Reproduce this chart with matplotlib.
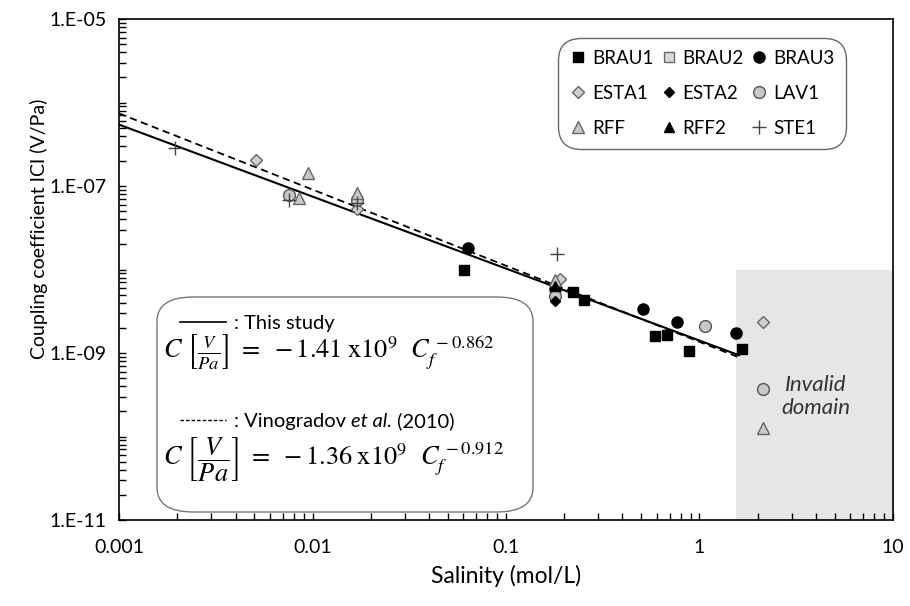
import numpy as np
import matplotlib
matplotlib.use("Agg")
import matplotlib.pyplot as plt
from matplotlib.patches import FancyBboxPatch, Rectangle
from matplotlib.lines import Line2D
from matplotlib.ticker import FixedLocator, FixedFormatter, LogLocator, NullFormatter

plt.rcParams['font.family'] = ['Lato', 'DejaVu Sans']
plt.rcParams['mathtext.fontset'] = 'stix'

# salinity (mol/L) and coupling coefficient |C| (V/Pa)
brau1_x = [0.0605, 0.222, 0.253, 0.589, 0.68, 0.883, 1.66]
brau1_y = [9.9e-9, 5.4e-9, 4.3e-9, 1.6e-9, 1.64e-9, 1.06e-9, 1.12e-9]
brau2_x = []
brau2_y = []
brau3_x = [0.0637, 0.18, 0.51, 0.765, 1.54]
brau3_y = [1.81e-8, 5.8e-9, 3.36e-9, 2.35e-9, 1.74e-9]
esta1_x = [0.0051, 0.017, 0.19, 2.13]
esta1_y = [2.05e-7, 5.3e-8, 7.7e-9, 2.35e-9]
esta2_x = [0.18]
esta2_y = [4.2e-9]
lav1_x = [0.00757, 0.017, 0.18, 1.07, 2.13]
lav1_y = [7.8e-8, 6.8e-8, 4.8e-9, 2.1e-9, 3.7e-10]
rff_x = [0.0085, 0.0095, 0.017, 0.18, 2.13]
rff_y = [7.2e-8, 1.43e-7, 8.2e-8, 7.5e-9, 1.26e-10]
rff2_x = [0.18]
rff2_y = [6.3e-9]
ste1_x = [0.00194, 0.00757, 0.017, 0.184]
ste1_y = [2.85e-7, 6.8e-8, 6.3e-8, 1.53e-8]

# fitted power laws (straight on log-log), end points
fit_x = [0.001, 1.6]
fit_this = [5.44e-7, 9.4e-10]
fit_vino = [7.4e-7, 8.86e-10]

invalid_x = [1.55, 10]
invalid_y = [1e-11, 1e-8]

yticks = [1e-11, 1e-9, 1e-7, 1e-5]
ylabels = ["1.E-11", "1.E-09", "1.E-07", "1.E-05"]
xticks = [0.001, 0.01, 0.1, 1, 10]
xlabels = ["0.001", "0.01", "0.1", "1", "10"]

fig = plt.figure(figsize=(9.1, 6.06), dpi=100)
ax = fig.add_axes([0.1308, 0.1419, 0.8505, 0.8267])
ax.set_xscale("log")
ax.set_yscale("log")
ax.set_xlim(0.001, 10)
ax.set_ylim(1e-11, 1e-5)

ax.add_patch(Rectangle((invalid_x[0], invalid_y[0]), invalid_x[1] - invalid_x[0],
                       invalid_y[1] - invalid_y[0], facecolor="#e6e6e6",
                       edgecolor="none", zorder=0))
ax.text(4.0, 3.0e-10, "Invalid\ndomain", style="italic", fontsize=16,
        color="#333333", ha="center", va="center", linespacing=1.15)

ax.plot(fit_x, fit_this, color="black", lw=1.5, zorder=2)
ax.plot(fit_x, fit_vino, color="black", lw=1.3, ls=(0, (4, 2.5)), zorder=2)

grey = "#c8c8c8"
edge = "#666666"
h_brau1, = ax.plot(brau1_x, brau1_y, "s", ms=7.5, color="black", label="BRAU1", zorder=3)
h_brau2, = ax.plot(brau2_x, brau2_y, "s", ms=7, mfc="#d9d9d9", mec=edge, mew=1, label="BRAU2", zorder=3)
h_brau3, = ax.plot(brau3_x, brau3_y, "o", ms=8, color="black", label="BRAU3", zorder=3)
h_esta1, = ax.plot(esta1_x, esta1_y, "D", ms=6.5, mfc="#d0d0d0", mec=edge, mew=1, label="ESTA1", zorder=3)
h_esta2, = ax.plot(esta2_x, esta2_y, "D", ms=5, color="black", label="ESTA2", zorder=4)
h_lav1, = ax.plot(lav1_x, lav1_y, "o", ms=8.5, mfc=grey, mec="#555555", mew=1, label="LAV1", zorder=3)
h_rff, = ax.plot(rff_x, rff_y, "^", ms=9, mfc=grey, mec=edge, mew=1, label="RFF", zorder=3)
h_rff2, = ax.plot(rff2_x, rff2_y, "^", ms=7, color="black", label="RFF2", zorder=4)
h_ste1, = ax.plot(ste1_x, ste1_y, "+", ms=10, color="#444444", mew=1, label="STE1", zorder=4)

handles = [h_brau1, h_esta1, h_rff, h_brau2, h_esta2, h_rff2, h_brau3, h_lav1, h_ste1]
leg = ax.legend(handles=handles, ncol=3, loc="upper right",
                bbox_to_anchor=(0.935, 0.955), fontsize=13.5, frameon=True,
                fancybox=True, handlelength=0.8, handletextpad=0.35,
                columnspacing=0.4, labelspacing=0.95, borderpad=0.45,
                borderaxespad=0)
leg.get_frame().set_edgecolor("#444444")
leg.get_frame().set_linewidth(1.0)
leg.get_frame().set_boxstyle("round,pad=0.2,rounding_size=1.2")

ax.yaxis.set_major_locator(FixedLocator(yticks))
ax.yaxis.set_major_formatter(FixedFormatter(ylabels))
ax.yaxis.set_minor_locator(LogLocator(base=10, subs=np.arange(1, 10), numticks=30))
ax.yaxis.set_minor_formatter(NullFormatter())
ax.xaxis.set_major_locator(FixedLocator(xticks))
ax.xaxis.set_major_formatter(FixedFormatter(xlabels))
ax.xaxis.set_minor_locator(LogLocator(base=10, subs=np.arange(2, 10), numticks=30))
ax.xaxis.set_minor_formatter(NullFormatter())
ax.tick_params(which="both", direction="in", length=5, width=1, labelsize=14)
ax.tick_params(axis="x", pad=14)
ax.tick_params(axis="y", pad=9)
for s in ax.spines.values():
    s.set_linewidth(1.2)

ax.set_xlabel("Salinity (mol/L)", fontsize=16.5, labelpad=6)
ax.set_ylabel("Coupling coefficient ICI (V/Pa)", fontsize=14)
ax.yaxis.set_label_coords(-0.092, 0.581)

# equation box
def fx(px):
    return px / 910.0

def fy(py):
    return 1 - py / 606.0

box = FancyBboxPatch((fx(157), fy(512)), fx(533) - fx(157), fy(297) - fy(512),
                     boxstyle="round,pad=0,rounding_size=0.04",
                     transform=fig.transFigure, facecolor="white",
                     edgecolor="#777777", lw=1.0, zorder=5)
fig.patches.append(box)
fig.lines.append(Line2D([fx(180), fx(226)], [fy(322), fy(322)], color="black", lw=1.2,
                        transform=fig.transFigure, zorder=6))
fig.text(fx(234), fy(323), ": This study", fontsize=14.5, va="center", zorder=6)
fig.text(fx(163), fy(352), r"$C\ \left[\frac{V}{Pa}\right]\ =\ -1.41\;\mathrm{x}10^{9}\ \ C_f^{\,-0.862}$",
         fontsize=19, va="center", zorder=6)
fig.lines.append(Line2D([fx(180), fx(226)], [fy(420), fy(420)], color="black", lw=1.0,
                        ls=(0, (2.5, 1.5)), transform=fig.transFigure, zorder=6))

# "Vinogradov et al. (2010)" with the italic part in the same font
renderer = fig.canvas.get_renderer()
x_px = 234
for part, st in [(": Vinogradov ", "normal"), ("et al.", "italic"), (" (2010)", "normal")]:
    t = fig.text(fx(x_px), fy(427), part, fontsize=14.5, style=st, va="baseline", zorder=6)
    x_px += t.get_window_extent(renderer).width
fig.text(fx(163), fy(460), r"$C\ \left[\dfrac{V}{Pa}\right]\ =\ -1.36\;\mathrm{x}10^{9}\ \ C_f^{\,-0.912}$",
         fontsize=19, va="center", zorder=6)

fig.savefig("out.png", dpi=100)
